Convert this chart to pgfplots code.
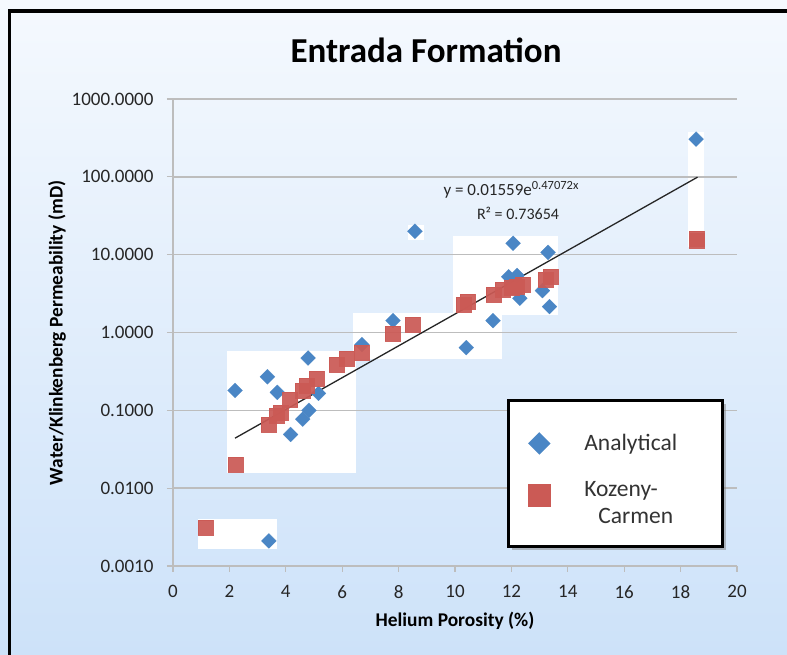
\documentclass[border=0pt]{standalone}
\usepackage{pgfplots}
\pgfplotsset{compat=1.18}
\usepackage{fontspec}
\setmainfont{Carlito}
\usetikzlibrary{shadows}
\definecolor{kblue}{HTML}{4A86C5}
\definecolor{kred}{HTML}{CB5A55}
\definecolor{bgtop}{HTML}{F5F9FE}
\definecolor{bgbot}{HTML}{CDE2F9}
\definecolor{gridgray}{HTML}{BDBDBD}
\begin{document}
\begin{tikzpicture}[x=1pt,y=1pt]
\shade[top color=bgtop, bottom color=bgbot] (0,0) rectangle (787,655);
\draw[line width=3.5pt, black] (9.5,0) -- (9.5,644) -- (787,644);
\node[font=\fontsize{35}{35}\selectfont\bfseries] at (426,605) {Entrada Formation};
\begin{axis}[
  at={(173pt,89pt)}, anchor=south west,
  scale only axis, width=564pt, height=467pt,
  xmin=0, xmax=20, ymode=log, ymin=0.001, ymax=1000,
  xtick={0,2,...,20},
  ytick={0.001,0.01,0.1,1,10,100,1000},
  yticklabels={0.0010,0.0100,0.1000,1.0000,10.0000,100.0000,1000.0000},
  yminorticks=false,
  axis lines*=left,
  axis line style={gridgray, line width=1.5pt},
  tick style={gridgray, line width=1.2pt},
  tick align=outside,
  major tick length=6pt,
  /pgf/number format/assume math mode=true,
  ticklabel style={font=\fontsize{19}{19}\selectfont, text=black!85},
  xticklabel style={yshift=-10pt},
  yticklabel style={xshift=-10pt},
  xlabel={Helium Porosity (\%)},
  ylabel={Water/Klinkenberg Permeability (mD)},
  xlabel style={at={(axis description cs:0.5,-0.1178)}, anchor=center, font=\fontsize{19.4}{19.4}\selectfont\bfseries},
  ylabel style={at={(axis description cs:-0.2057,0.499)}, anchor=center, rotate=0, font=\fontsize{19.4}{19.4}\selectfont\bfseries},
  legend style={at={(axis description cs:0.592,0.3576)}, anchor=north west,
    draw=black, line width=2.8pt, fill=white,
    drop shadow={shadow xshift=4pt, shadow yshift=-4pt, opacity=0.5},
    font=\fontsize{23.5}{27}\selectfont, text=black!80,
    inner xsep=20pt, inner ysep=32pt, row sep=21pt,
    /tikz/every odd column/.append style={column sep=32pt}},
  legend cell align=left,
]
\addlegendimage{only marks, mark=square*, mark options={rotate=45, fill=kblue, draw=kblue, line width=0.1pt}, mark size=7.8pt}
\addlegendentry{Analytical\hspace*{23pt}}
\addlegendimage{only marks, mark=square*, mark options={fill=kred, draw=kred, line width=0.1pt}, mark size=11pt}
\addlegendentry{\begin{tabular}{@{}l@{}}Kozeny-\\\hspace*{14pt}Carmen\end{tabular}}

% white rectangles behind the points
\addplot[fill=white, draw=none, forget plot] coordinates {(0.89,0.00165)(3.69,0.00165)(3.69,0.0040)(0.89,0.0040)} -- cycle;
\addplot[fill=white, draw=none, forget plot] coordinates {(1.91,0.0156)(6.49,0.0156)(6.49,0.57)(1.91,0.57)} -- cycle;
\addplot[fill=white, draw=none, forget plot] coordinates {(6.38,0.45)(11.67,0.45)(11.67,1.8)(6.38,1.8)} -- cycle;
\addplot[fill=white, draw=none, forget plot] coordinates {(9.93,1.7)(13.65,1.7)(13.65,17.6)(9.93,17.6)} -- cycle;
\addplot[fill=white, draw=none, forget plot] coordinates {(8.33,15.6)(8.9,15.6)(8.9,23.7)(8.33,23.7)} -- cycle;
\addplot[fill=white, draw=none, forget plot] coordinates {(18.26,12.4)(18.83,12.4)(18.83,379)(18.26,379)} -- cycle;

% horizontal gridlines
\addplot[gridgray, line width=1.5pt, forget plot] coordinates {(0,0.01)(20,0.01)};
\addplot[gridgray, line width=1.5pt, forget plot] coordinates {(0,0.1)(20,0.1)};
\addplot[gridgray, line width=1.5pt, forget plot] coordinates {(0,1)(20,1)};
\addplot[gridgray, line width=1.5pt, forget plot] coordinates {(0,10)(20,10)};
\addplot[gridgray, line width=1.5pt, forget plot] coordinates {(0,100)(20,100)};
\addplot[gridgray, line width=1.5pt, forget plot] coordinates {(0,1000)(20,1000)};

% Analytical
\addplot[only marks, mark=square*, mark size=5.3pt, mark options={rotate=45, fill=kblue, draw=kblue, line width=0.1pt}, forget plot] coordinates {
(2.2,0.18) (3.35,0.27) (3.7,0.17) (4.17,0.049) (4.6,0.077) (4.82,0.10)
(4.79,0.47) (5.16,0.165) (6.7,0.7) (7.8,1.42) (8.58,20) (10.4,0.64)
(11.35,1.42) (11.9,5.2) (12.06,14) (12.2,5.4) (12.3,2.75) (13.1,3.45)
(13.3,10.7) (13.35,2.15) (18.55,305) (3.4,0.0021)
};
% Kozeny-Carmen
\addplot[only marks, mark=square*, mark size=7.5pt, mark options={fill=kred, draw=kred, line width=0.1pt, opacity=0.93}, forget plot] coordinates {
(1.17,0.0031) (2.23,0.0203) (3.4,0.066) (3.68,0.086) (3.8,0.094) (4.15,0.138)
(4.6,0.18) (4.75,0.21) (5.1,0.256) (5.8,0.39) (6.17,0.46) (6.7,0.55)
(7.8,0.97) (8.5,1.27) (10.3,2.3) (10.45,2.5) (11.35,3.05) (11.7,3.6)
(12.0,3.8) (12.2,3.9) (12.4,4.1) (13.2,4.8) (13.4,5.3) (18.55,16.1) (18.55,15.2)
};
% exponential trendline (straight on log axis)
\addplot[black!85, line width=1.3pt, forget plot] coordinates {(2.2,0.0439) (18.6,99.07)};
\end{axis}
\node[font=\fontsize{17}{17}\selectfont, text=black!85] at (511,465) {y = 0.01559e{\fontsize{12.5}{12.5}\selectfont\raisebox{0.45em}{0.47072x}}};
\node[font=\fontsize{16}{16}\selectfont, text=black!85] at (518,442) {R² = 0.73654};
\pgfresetboundingbox
\useasboundingbox (0,0) rectangle (787,655);
\end{tikzpicture}
\end{document}
